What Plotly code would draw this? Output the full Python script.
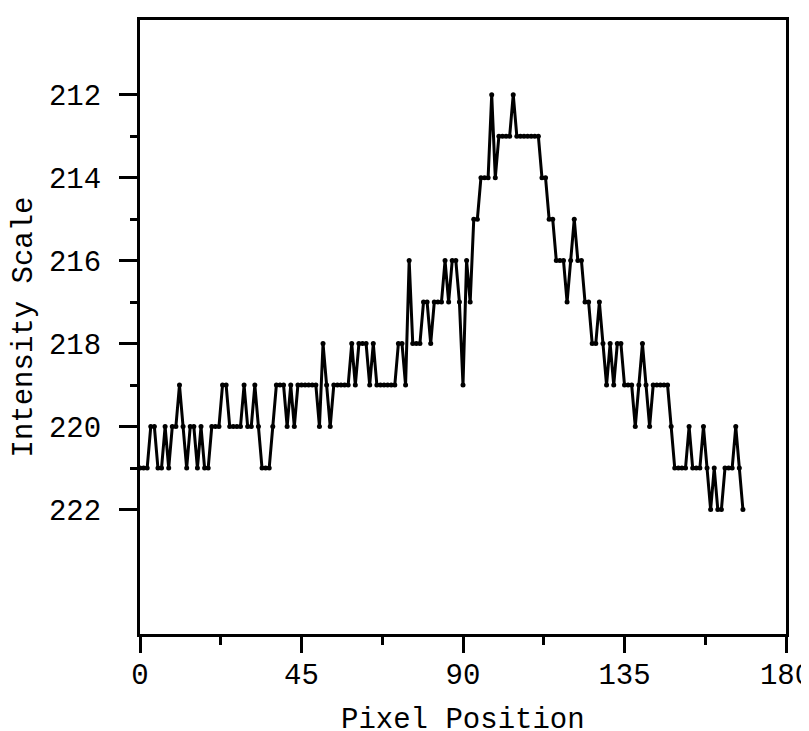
import plotly.graph_objects as go

pixel_position = list(range(169))
intensity = [
    221, 221, 221, 220, 220, 221, 221, 220, 221, 220,
    220, 219, 220, 221, 220, 220, 221, 220, 221, 221,
    220, 220, 220, 219, 219, 220, 220, 220, 220, 219,
    220, 220, 219, 220, 221, 221, 221, 220, 219, 219,
    219, 220, 219, 220, 219, 219, 219, 219, 219, 219,
    220, 218, 219, 220, 219, 219, 219, 219, 219, 218,
    219, 218, 218, 218, 219, 218, 219, 219, 219, 219,
    219, 219, 218, 218, 219, 216, 218, 218, 218, 217,
    217, 218, 217, 217, 217, 216, 217, 216, 216, 217,
    219, 216, 217, 215, 215, 214, 214, 214, 212, 214,
    213, 213, 213, 213, 212, 213, 213, 213, 213, 213,
    213, 213, 214, 214, 215, 215, 216, 216, 216, 217,
    216, 215, 216, 216, 217, 217, 218, 218, 217, 218,
    219, 218, 219, 218, 218, 219, 219, 219, 220, 219,
    218, 219, 220, 219, 219, 219, 219, 219, 220, 221,
    221, 221, 221, 220, 221, 221, 221, 220, 221, 222,
    221, 222, 222, 221, 221, 221, 220, 221, 222,
]

x_ticks = [0, 45, 90, 135, 180]
y_ticks = [212, 214, 216, 218, 220, 222]
x_title = "Pixel Position"
y_title = "Intensity Scale"

font_family = "Courier New, Liberation Mono, monospace"

fig = go.Figure()
fig.add_trace(go.Scatter(
    x=pixel_position, y=intensity, mode="lines+markers",
    line=dict(color="black", width=3),
    marker=dict(color="black", size=5),
    showlegend=False,
))

# page body has an 8px margin, so the figure is sized and offset to fit the 809x731 window
fig.update_layout(
    width=801, height=723,
    margin=dict(l=132, r=23, t=12, b=97),
    paper_bgcolor="white", plot_bgcolor="white",
    font=dict(family=font_family, size=29, color="black"),
)

fig.update_xaxes(
    range=[0, 180], tickvals=x_ticks, ticktext=[str(v) for v in x_ticks],
    showgrid=False, zeroline=False, automargin=False,
    showline=True, linecolor="black", linewidth=3, mirror=True,
    ticks="outside", ticklen=16, tickwidth=3, tickcolor="black",
    minor=dict(tickvals=[22.5, 67.5, 112.5, 157.5], ticks="outside", ticklen=8, tickwidth=3, tickcolor="black"),
    tickfont=dict(family=font_family, size=29),
    ticklabelstandoff=-4, ticklabeloverflow="allow",
)
fig.add_annotation(
    text=x_title, xref="paper", yref="paper", x=0.5, y=0,
    xanchor="center", yanchor="middle", yshift=-86, showarrow=False,
    font=dict(family=font_family, size=29, color="black"),
)
fig.update_yaxes(
    range=[225, 210.2], tickvals=y_ticks, ticktext=[str(v) for v in y_ticks],
    showgrid=False, zeroline=False, automargin=False,
    showline=True, linecolor="black", linewidth=3, mirror=True,
    ticks="outside", ticklen=18, tickwidth=3, tickcolor="black",
    minor=dict(tickvals=[213, 215, 217, 219, 221], ticks="outside", ticklen=7, tickwidth=3, tickcolor="black"),
    tickfont=dict(family=font_family, size=29),
    ticklabelstandoff=12,
    title=dict(text=y_title, font=dict(family=font_family, size=29), standoff=11),
)

fig.write_html("out.html")
